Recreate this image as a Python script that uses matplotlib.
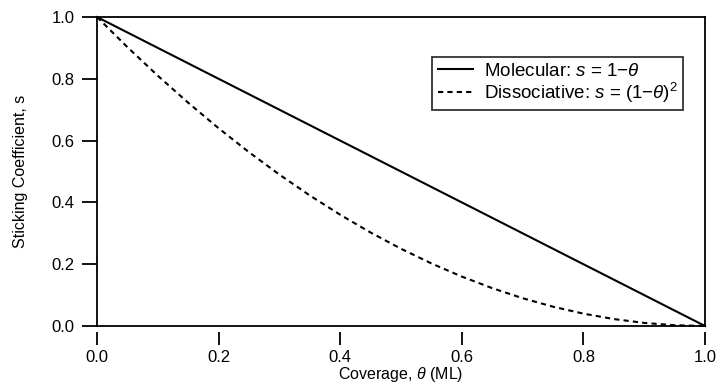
import matplotlib
matplotlib.use("Agg")
import matplotlib.pyplot as plt

plt.rcParams['font.family'] = ['Liberation Sans', 'DejaVu Sans']
plt.rcParams['mathtext.fontset'] = 'custom'
plt.rcParams['mathtext.rm'] = 'Liberation Sans'
plt.rcParams['mathtext.it'] = 'Liberation Sans:italic'

# Coverage values (ML)
coverage = [0.00, 0.05, 0.10, 0.15, 0.20, 0.25, 0.30, 0.35, 0.40, 0.45, 0.50,
            0.55, 0.60, 0.65, 0.70, 0.75, 0.80, 0.85, 0.90, 0.95, 1.00]
# Sticking coefficient, molecular adsorption
s_molecular = [1.00, 0.95, 0.90, 0.85, 0.80, 0.75, 0.70, 0.65, 0.60, 0.55, 0.50,
               0.45, 0.40, 0.35, 0.30, 0.25, 0.20, 0.15, 0.10, 0.05, 0.00]
# Sticking coefficient, dissociative adsorption
s_dissociative = [1.000, 0.9025, 0.810, 0.7225, 0.640, 0.5625, 0.490, 0.4225, 0.360,
                  0.3025, 0.250, 0.2025, 0.160, 0.1225, 0.090, 0.0625, 0.040,
                  0.0225, 0.010, 0.0025, 0.000]

xticks = [0.0, 0.2, 0.4, 0.6, 0.8, 1.0]
yticks = [0.0, 0.2, 0.4, 0.6, 0.8, 1.0]

fig = plt.figure(figsize=(7.16, 3.89), dpi=100)
ax = fig.add_axes([97/716, 1-326/389, (705-97)/716, (326-17)/389])

ax.plot(coverage, s_molecular, color='black', lw=1.5, ls='-',
        label='Molecular: ' + r'$s$' + ' = 1' + '\u2212' + r'$\theta$',
        clip_on=False)
ax.plot(coverage, s_dissociative, color='black', lw=1.5, ls=(0, (2.5, 2)),
        label='Dissociative: ' + r'$s$' + ' = (1' + '\u2212' + r'$\theta$)$^2$',
        clip_on=False)

ax.set_xlim(0, 1)
ax.set_ylim(0, 1)
ax.set_xticks(xticks)
ax.set_yticks(yticks)
ax.set_xticklabels([f"{v:.1f}" for v in xticks])
ax.set_yticklabels([f"{v:.1f}" for v in yticks])

for sp in ax.spines.values():
    sp.set_linewidth(1.3)
# x ticks hang slightly below the frame
ax.spines['bottom'].set_position(('outward', 4))
ax.spines['bottom'].set_visible(False)
ax.plot([0, 1], [0, 0], transform=ax.transAxes, color='black', lw=1.3,
        clip_on=False, solid_capstyle='projecting')

ax.tick_params(axis='both', direction='out', width=1.3,
               labelsize=12, colors='black')
ax.tick_params(axis='x', length=9, pad=4)
ax.tick_params(axis='y', length=11, pad=5)

ax.set_xlabel(r'Coverage, $\theta$ (ML)', fontsize=11.5, labelpad=0)
ax.set_ylabel('Sticking Coefficient, s', fontsize=11.5, labelpad=17)

leg = ax.legend(loc='upper left', bbox_to_anchor=((432-97)/608, 1-(57-17)/309),
                fontsize=13.5, frameon=True, fancybox=False, handlelength=1.9,
                borderpad=0.3, labelspacing=0.05, handletextpad=0.55,
                borderaxespad=0)
leg.get_frame().set_edgecolor('black')
leg.get_frame().set_linewidth(1.3)

fig.savefig('out.png', dpi=100)
